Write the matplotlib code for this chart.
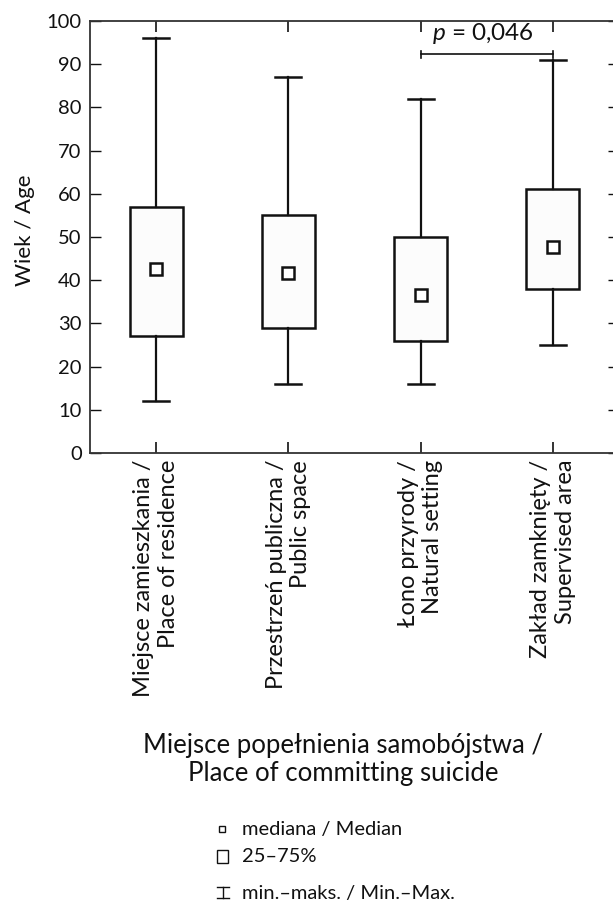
import matplotlib
matplotlib.use("Agg")
import matplotlib.pyplot as plt
from matplotlib.lines import Line2D
from matplotlib.patches import Rectangle

plt.rcParams['font.family'] = ['Lato', 'DejaVu Sans']
plt.rcParams['mathtext.fontset'] = 'custom'
plt.rcParams['mathtext.rm'] = 'Lato'
plt.rcParams['mathtext.it'] = 'Lato:italic'

# data
categories = ["Miejsce zamieszkania /\nPlace of residence",
              "Przestrzeń publiczna /\nPublic space",
              "Łono przyrody /\nNatural setting",
              "Zakład zamknięty /\nSupervised area"]
mins = [12, 16, 16, 25]
q1 = [27, 29, 26, 38]
medians = [42.6, 41.6, 36.6, 47.8]
q3 = [57, 55, 50, 61]
maxs = [96, 87, 82, 91]
yticks = [0, 10, 20, 30, 40, 50, 60, 70, 80, 90, 100]
p_text = "$p$ = 0,046"
p_pair = (3, 4)
p_level = 92.3

ink = "#111111"

fig = plt.figure(figsize=(6.13, 9.15), dpi=100)
ax = fig.add_axes([90 / 613, 1 - 453 / 915, (619 - 90) / 613, (453 - 21) / 915])

stats = []
for i in range(len(categories)):
    stats.append(dict(whislo=mins[i], q1=q1[i], med=medians[i], q3=q3[i],
                      whishi=maxs[i], fliers=[]))
pos = list(range(1, len(categories) + 1))
ax.bxp(stats, positions=pos, widths=0.40, patch_artist=True, showfliers=False,
       boxprops=dict(facecolor="#fcfcfc", edgecolor=ink, linewidth=1.8),
       whiskerprops=dict(color=ink, linewidth=1.6),
       capprops=dict(color=ink, linewidth=1.8),
       medianprops=dict(linewidth=0),
       capwidths=0.195)
ax.plot(pos, medians, linestyle="none", marker="s", markersize=8,
        markerfacecolor="white", markeredgecolor=ink, markeredgewidth=1.8)

# significance bracket
x0, x1 = p_pair
ax.plot([x0, x1], [p_level, p_level], color=ink, linewidth=1.2)
ax.plot([x0, x0], [p_level - 0.8, p_level + 0.8], color=ink, linewidth=1.2)
ax.plot([x1, x1], [p_level - 0.8, p_level + 0.8], color=ink, linewidth=1.2)
ax.text((x0 + x1) / 2 - 0.03, p_level + 2.0, p_text, ha="center", va="bottom",
        fontsize=17.5, color=ink)

ax.set_xlim(0.5, len(categories) + 0.5)
ax.set_ylim(0, 100)
ax.set_yticks(yticks)
ax.set_xticks(pos)
ax.set_xticklabels(categories, rotation=90, ha="center", va="top",
                   multialignment="right", fontsize=17, color=ink,
                   linespacing=1.2)
ax.tick_params(axis="y", left=True, right=True, labelleft=True, direction="in",
               length=8, width=1, labelsize=14.5, pad=6, colors=ink)
ax.tick_params(axis="x", top=True, bottom=True, direction="in", length=8,
               width=1.2, pad=5, colors=ink)
for s in ax.spines.values():
    s.set_linewidth(1.3)
    s.set_color("#333333")

fig.text(25 / 613, 1 - 230 / 915, "Wiek / Age", rotation=90, ha="center",
         va="center", fontsize=16, color=ink)
fig.text(343 / 613, 1 - 759 / 915,
         "Miejsce popełnienia samobójstwa /\nPlace of committing suicide",
         ha="center", va="center", fontsize=18.5, color=ink, linespacing=1.15)

# legend drawn by hand
fig.add_artist(Line2D([222 / 613], [1 - 829 / 915], marker="s", markersize=5,
                      markerfacecolor="white", markeredgecolor=ink,
                      markeredgewidth=1, linestyle="none"))
fig.text(242 / 613, 1 - 829 / 915, "mediana / Median", ha="left", va="center",
         fontsize=14.5, color=ink)
fig.add_artist(Rectangle((217 / 613, 1 - 863 / 915), 11 / 613, 13 / 915,
                         facecolor="white", edgecolor=ink, linewidth=1))
fig.text(242 / 613, 1 - 857 / 915, "25–75%", ha="left", va="center",
         fontsize=14.5, color=ink)
ix, it, ib = 223, 887, 898
fig.add_artist(Line2D([(ix - 6) / 613, (ix + 6) / 613], [1 - it / 915] * 2,
                      color=ink, linewidth=1))
fig.add_artist(Line2D([(ix - 6) / 613, (ix + 6) / 613], [1 - ib / 915] * 2,
                      color=ink, linewidth=1))
fig.add_artist(Line2D([ix / 613, ix / 613], [1 - it / 915, 1 - ib / 915],
                      color=ink, linewidth=1))
fig.text(242 / 613, 1 - 893 / 915, "min.–maks. / Min.–Max.", ha="left",
         va="center", fontsize=14.5, color=ink)

fig.savefig("out.png", dpi=100)
